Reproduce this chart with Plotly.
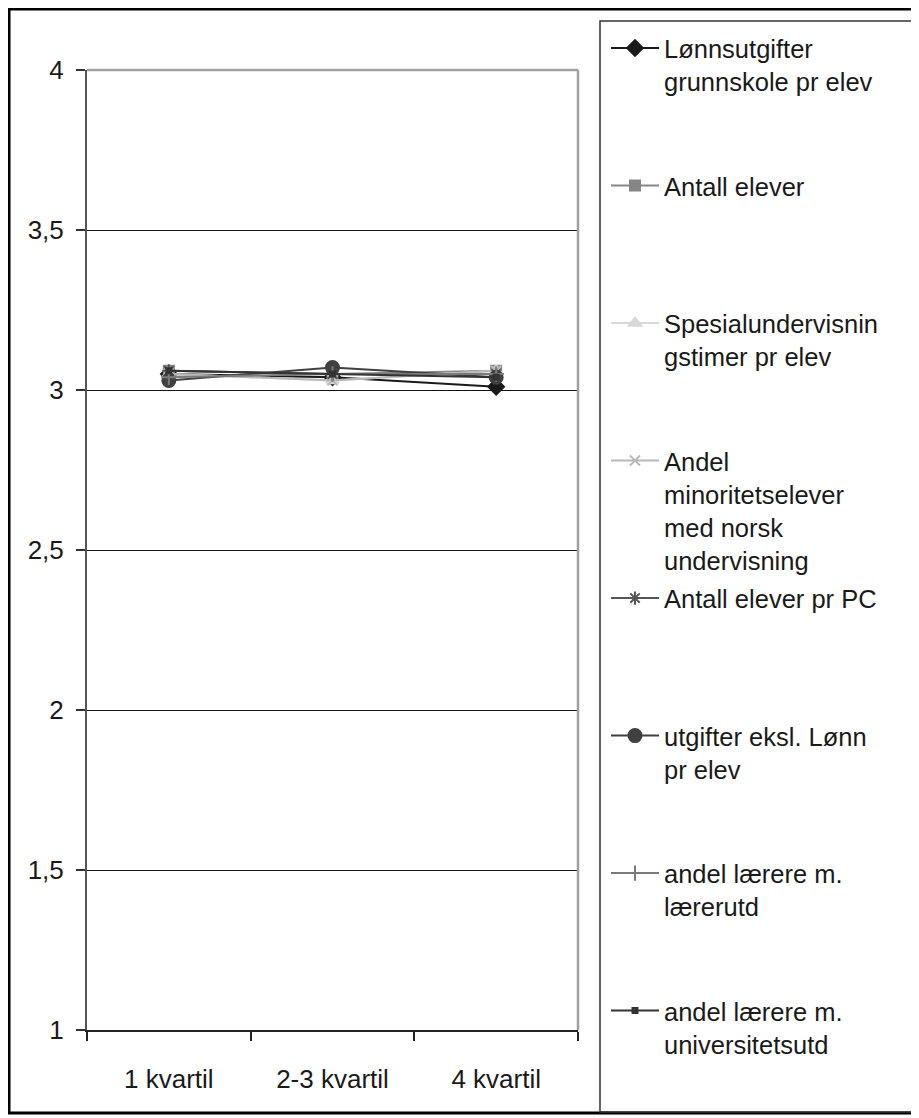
import plotly.graph_objects as go

categories = ["1 kvartil", "2-3 kvartil", "4 kvartil"]

series_names = [
    "Lønnsutgifter<br>grunnskole pr elev",
    "Antall elever",
    "Spesialundervisnin<br>gstimer pr elev",
    "Andel<br>minoritetselever<br>med norsk<br>undervisning",
    "Antall elever pr PC",
    "utgifter eksl. Lønn<br>pr elev",
    "andel lærere m.<br>lærerutd",
    "andel lærere m.<br>universitetsutd",
]

lonnsutgifter = [3.05, 3.04, 3.01]
antall_elever = [3.06, 3.05, 3.06]
spesialundervisning = [3.05, 3.03, 3.06]
andel_minoritet = [3.05, 3.03, 3.06]
antall_elever_pc = [3.06, 3.05, 3.05]
utgifter_eksl = [3.03, 3.07, 3.04]
laerere_laererutd = [3.04, 3.05, 3.05]
laerere_univ = [3.06, 3.05, 3.04]

values = [lonnsutgifter, antall_elever, spesialundervisning, andel_minoritet,
          antall_elever_pc, utgifter_eksl, laerere_laererutd, laerere_univ]

yticks = [1, 1.5, 2, 2.5, 3, 3.5, 4]

styles = [
    dict(color="#1a1a1a", symbol="diamond", size=12),
    dict(color="#858585", symbol="square", size=10),
    dict(color="#d8d8d8", symbol="triangle-up", size=11),
    dict(color="#b8b8b8", symbol="x-thin-open", size=10),
    dict(color="#555555", symbol="asterisk-open", size=11),
    dict(color="#404040", symbol="circle", size=13),
    dict(color="#7a7a7a", symbol="cross-thin-open", size=11),
    dict(color="#333333", symbol="square", size=5),
]

# page body has an 8px margin; work in reference pixel coords and shift
O = 8
W, H = 919 - O, 1118 - O
L, R, T, B = 87 - O, 578 - O, 70 - O, 1030 - O
LEG_FONT = 25.5

fig = go.Figure()
for i, (name, vals, st) in enumerate(zip(series_names, values, styles)):
    nlines = name.count("<br>") + 1
    pad = 4 - nlines if i < len(series_names) - 1 else 0
    padded = name + "<br> " * pad
    fig.add_trace(go.Scatter(
        x=categories, y=vals, name=padded, mode="lines+markers",
        legendgroup=f"g{i}",
        line=dict(color=st["color"], width=2),
        marker=dict(symbol=st["symbol"], size=st["size"], color=st["color"],
                    line=dict(color=st["color"], width=2)),
    ))

def px_x(p):
    return (p - O - L) / (R - L)

def px_y(p):
    return (B - (p - O)) / (B - T)

shapes = [
    dict(type="rect", xref="paper", yref="paper",
         x0=px_x(9), x1=px_x(917), y0=px_y(1113), y1=px_y(9),
         line=dict(color="black", width=3), layer="below"),
    dict(type="rect", xref="paper", yref="paper",
         x0=px_x(600), x1=px_x(915), y0=px_y(1112), y1=px_y(21),
         line=dict(color="#333333", width=1.5), layer="below"),
    dict(type="line", xref="paper", yref="paper", x0=0, x1=1, y0=1, y1=1,
         line=dict(color="#a0a0a0", width=2.5)),
    dict(type="line", xref="paper", yref="paper", x0=1, x1=1, y0=0, y1=1,
         line=dict(color="#a0a0a0", width=2.5)),
]

item_h = 4 * LEG_FONT * 1.3 + 3
gap = max(137.5 - item_h, 0)

fig.update_layout(
    width=W, height=H,
    margin=dict(l=L, r=W - R, t=T, b=H - B),
    paper_bgcolor="white", plot_bgcolor="white",
    separators=", ",
    font=dict(family="Liberation Sans, Arial, sans-serif", size=26, color="#1a1a1a"),
    showlegend=True,
    legend=dict(
        x=px_x(606), xanchor="left", y=px_y(25), yanchor="top",
        valign="top", tracegroupgap=gap, bgcolor="rgba(0,0,0,0)",
        font=dict(size=LEG_FONT, color="#1a1a1a"), itemclick=False,
        itemwidth=48, maxheight=2000,
    ),
    shapes=shapes,
    xaxis=dict(
        type="category", range=[-0.5, 2.5], tickson="boundaries",
        ticks="outside", ticklen=9, tickcolor="#222", tickwidth=1.5,
        showline=True, linecolor="#222", linewidth=2, showgrid=False,
        ticklabelstandoff=25, zeroline=False,
    ),
    yaxis=dict(
        range=[1, 4], tickvals=yticks, ticks="outside", ticklen=9,
        tickcolor="#333", tickwidth=1.5, showline=True, linecolor="#555",
        linewidth=2, showgrid=True, gridcolor="#111", gridwidth=1,
        zeroline=False, ticklabelstandoff=7,
    ),
)

fig.write_html("out.html")
